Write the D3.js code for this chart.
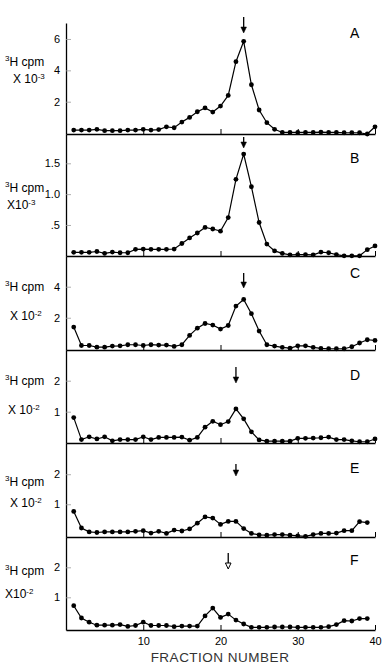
<!DOCTYPE html>
<html lang="en">
<head>
    <meta charset="UTF-8">
    <script src="https://d3js.org/d3.v7.min.js"></script>
    <title>Fraction profiles A-F</title>
    <style>
        body { margin: 0; background: white; }
        text { font-family: "Liberation Sans", Arial, sans-serif; fill: black; }
    </style>
</head>
<body>
    <script type="text/javascript">

        const w = 382;
        const h = 666;

        // fraction numbers
        const fractions = [1, 2, 3, 4, 5, 6, 7, 8, 9, 10, 11, 12, 13, 14, 15, 16, 17, 18, 19, 20,
            21, 22, 23, 24, 25, 26, 27, 28, 29, 30, 31, 32, 33, 34, 35, 36, 37, 38, 39, 40];

        // 3H cpm per fraction (in units of the panel's y axis)
        const valuesA = [0.19, 0.19, 0.19, 0.24, 0.15, 0.15, 0.15, 0.19, 0.19, 0.24, 0.19, 0.22, 0.40, 0.34, 0.70, 1.00,
            1.36, 1.60, 1.34, 1.72, 2.40, 4.55, 5.85, 3.08, 1.47, 0.66, 0.24, 0.04, 0.04, 0.04, 0.04, 0.04, 0.06, 0.04,
            0.04, 0.02, 0.02, 0.02, -0.06, 0.40];
        const valuesB = [0.057, 0.057, 0.057, 0.07, 0.04, 0.06, 0.05, 0.05, 0.105, 0.11, 0.105, 0.105, 0.105, 0.11,
            0.20, 0.29, 0.37, 0.46, 0.435, 0.40, 0.62, 1.24, 1.65, 1.12, 0.54, 0.19, 0.08, 0.04, 0.015, 0.02, 0.02,
            0.015, 0.06, 0.05, 0.02, 0.0, 0.0, 0.0, 0.10, 0.16];
        const valuesC = [1.40, 0.21, 0.21, 0.10, 0.10, 0.17, 0.19, 0.26, 0.26, 0.21, 0.26, 0.24, 0.24, 0.15, 0.26,
            0.86, 1.33, 1.63, 1.53, 1.27, 1.50, 2.75, 3.18, 2.26, 1.14, 0.26, 0.17, 0.09, 0.04, 0.19, 0.19, 0.09,
            0.02, 0.0, 0.0, 0.0, 0.13, 0.37, 0.58, 0.54];
        const valuesD = [0.81, 0.10, 0.19, 0.12, 0.19, 0.06, 0.10, 0.10, 0.10, 0.19, 0.10, 0.17, 0.17, 0.17, 0.18,
            0.08, 0.17, 0.50, 0.69, 0.58, 0.68, 1.09, 0.77, 0.35, 0.09, 0.05, 0.05, 0.05, 0.05, 0.14, 0.14, 0.15,
            0.16, 0.18, 0.10, 0.10, 0.06, 0.03, 0.03, 0.12];
        const valuesE = [0.76, 0.21, 0.08, 0.06, 0.08, 0.08, 0.08, 0.08, 0.10, 0.12, 0.04, 0.10, 0.03, 0.14, 0.11,
            0.18, 0.37, 0.58, 0.54, 0.33, 0.43, 0.43, 0.19, 0.03, -0.02, -0.03, -0.01, -0.01, -0.03, -0.05, -0.07,
            -0.01, 0.03, 0.03, 0.04, 0.12, 0.12, 0.42, 0.39];
        const valuesF = [0.72, 0.31, 0.17, 0.07, 0.07, 0.07, 0.09, 0.03, 0.06, 0.17, 0.06, 0.06, 0.06, 0.02, 0.04,
            0.04, 0.04, 0.38, 0.64, 0.33, 0.44, 0.24, 0.11, 0.0, 0.0, 0.0, 0.01, 0.01, 0.01, 0.0, 0.0, 0.0, 0.0,
            0.02, 0.09, 0.22, 0.21, 0.29, 0.29];

        const panelNames = ["A", "B", "C", "D", "E", "F"];
        const panelValues = [valuesA, valuesB, valuesC, valuesD, valuesE, valuesF];
        const yTicks = [[2, 4, 6], [0.5, 1.0, 1.5], [2, 4], [1, 2], [1, 2], [1, 2]];
        const yTickLabels = [["2", "4", "6"], [".5", "1.0", "1.5"], ["2", "4"], ["1", "2"], ["1", "2"], ["1", "2"]];
        const exponents = ["-3", "-3", "-2", "-2", "-2", "-2"];
        const arrowFraction = [23, 23, 23, 22, 22, 21];
        const xTicks = [10, 20, 30, 40];

        // layout of each panel (pixels) and its y domain
        const layout = [
            { top: 23, bottom: 134, lo: -0.06, hi: 7.02, l1: 66, l2: 83, lx: 13, ty: 38, ay: [17, 33] },
            { top: 134, bottom: 256, lo: -0.003, hi: 1.975, l1: 192, l2: 209, lx: 7, ty: 163, ay: [137, 148] },
            { top: 256, bottom: 350, lo: -0.08, hi: 5.98, l1: 291, l2: 320, lx: 10, ty: 278, ay: [273, 288] },
            { top: 350, bottom: 443, lo: -0.01, hi: 2.99, l1: 385, l2: 414, lx: 8, ty: 380, ay: [367, 383] },
            { top: 443, bottom: 537, lo: -0.09, hi: 3.04, l1: 486, l2: 507, lx: 10, ty: 473, ay: [464, 476] },
            { top: 537, bottom: 630, lo: -0.09, hi: 3.01, l1: 575, l2: 598, lx: 5, ty: 565, ay: [553, 569] }
        ];

        const svg = d3.select("body")
            .append("svg")
            .attr("width", w)
            .attr("height", h)
            .style("background-color", "white");

        const xScale = d3.scaleLinear()
            .domain([0, 40])
            .range([66, 375]);

        const line = d3.line();

        panelNames.forEach((name, i) => {
            const L = layout[i];
            const vals = panelValues[i];
            const g = svg.append("g").attr("class", "panel");

            const yScale = d3.scaleLinear()
                .domain([L.lo, L.hi])
                .range([L.bottom, L.top]);

            // x baseline with inner ticks
            const xAxis = d3.axisBottom(xScale)
                .tickValues(xTicks)
                .tickSizeInner(-5)
                .tickSizeOuter(0)
                .tickPadding(7)
                .tickFormat(i === 5 ? d3.format("d") : "");
            const xg = g.append("g")
                .attr("transform", "translate(0," + L.bottom + ")")
                .call(xAxis);
            xg.select(".domain").attr("stroke-width", 1.3);
            xg.selectAll(".tick line").attr("stroke-width", 1);
            xg.selectAll(".tick text")
                .style("font-size", "11px")
                .style("font-family", "'Liberation Sans', Arial, sans-serif");

            // y axis (the stacked pieces form one vertical line)
            const yAxis = d3.axisLeft(yScale)
                .tickValues(yTicks[i])
                .tickSizeInner(-5)
                .tickSizeOuter(0)
                .tickPadding(6)
                .tickFormat((d, j) => yTickLabels[i][j]);
            const yg = g.append("g")
                .attr("transform", "translate(66,0)")
                .call(yAxis);
            yg.select(".domain").attr("stroke-width", 1.3);
            yg.selectAll(".tick line").attr("stroke", "#999").attr("stroke-width", 0.8);
            yg.selectAll(".tick text")
                .style("font-size", "11px")
                .style("font-family", "'Liberation Sans', Arial, sans-serif");

            // data line and dots
            const pts = vals.map((v, j) => [xScale(fractions[j]), yScale(v)]);
            g.append("path")
                .attr("d", line(pts))
                .attr("fill", "none")
                .attr("stroke", "black")
                .attr("stroke-width", 1.2);

            g.selectAll("circle")
                .data(vals)
                .enter()
                .append("circle")
                .attr("cx", (d, j) => xScale(fractions[j]))
                .attr("cy", d => yScale(d))
                .attr("r", 2.4)
                .attr("fill", "black");

            // panel letter
            g.append("text")
                .attr("x", 350)
                .attr("y", L.ty)
                .style("font-size", "14px")
                .text(name);

            // y label: 3H cpm / X 10^n
            const t1 = g.append("text")
                .attr("x", 5)
                .attr("y", L.l1)
                .style("font-size", "12px");
            t1.append("tspan").attr("dy", -5).style("font-size", "8px").text("3");
            t1.append("tspan").attr("dy", 5).text("H cpm");

            const t2 = g.append("text")
                .attr("x", L.lx)
                .attr("y", L.l2)
                .style("font-size", "12px");
            t2.append("tspan").text(i === 1 || i === 5 ? "X10" : "X 10");
            t2.append("tspan").attr("dy", -4).style("font-size", "8px").text(exponents[i]);

            // arrow marking the peak
            const ax = xScale(arrowFraction[i]);
            const y1 = L.ay[0];
            const y2 = L.ay[1];
            const hollow = i === 5;
            g.append("line")
                .attr("x1", ax).attr("x2", ax)
                .attr("y1", y1).attr("y2", y2 - 5)
                .attr("stroke", "black")
                .attr("stroke-width", 1.3);
            g.append("path")
                .attr("d", "M" + (ax - 2.8) + "," + (y2 - 6) + "L" + (ax + 2.8) + "," + (y2 - 6) + "L" + ax + "," + y2 + "Z")
                .attr("fill", hollow ? "white" : "black")
                .attr("stroke", "black")
                .attr("stroke-width", hollow ? 1 : 0.5);
        });

        // x axis title
        svg.append("text")
            .attr("x", 220)
            .attr("y", 662)
            .attr("text-anchor", "middle")
            .style("font-size", "13.5px")
            .style("fill", "#333")
            .style("letter-spacing", "0.5px")
            .text("FRACTION NUMBER");

    </script>
</body>
</html>
